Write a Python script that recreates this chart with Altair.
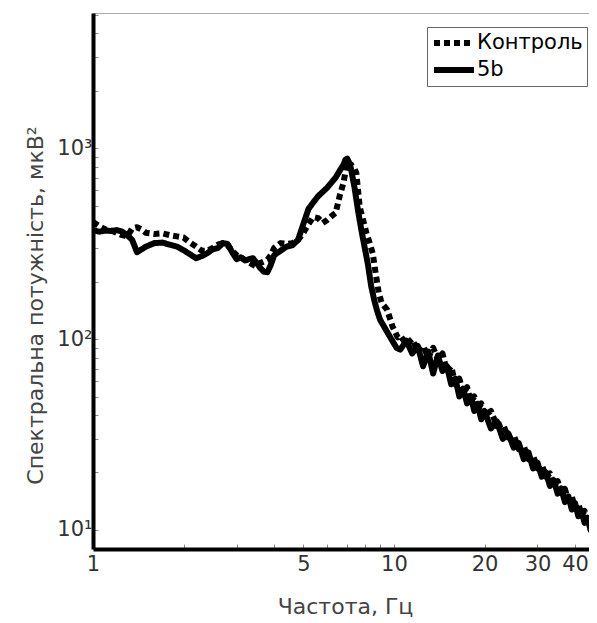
import altair as alt
import pandas as pd

series_names = ["Контроль", "5b"]

# ---- Series "5b" (solid line) ----
freq_5b_low = [1.0, 1.05, 1.1, 1.15, 1.2, 1.25, 1.3, 1.35, 1.4, 1.45, 1.5,
               1.6, 1.7, 1.8, 1.9, 2.0, 2.1, 2.2, 2.3, 2.4, 2.5, 2.6, 2.7, 2.8, 2.9, 3.0,
               3.1, 3.2, 3.3, 3.4, 3.5, 3.6, 3.7, 3.8, 3.9, 4.0,
               4.2, 4.4, 4.6, 4.8, 5.0, 5.2, 5.4, 5.6, 5.8, 6.0, 6.2, 6.4, 6.6, 6.8,
               6.9, 7.0, 7.1, 7.2,
               7.4, 7.6, 7.8, 8.0, 8.2, 8.4, 8.6, 8.8, 9.0,
               9.4, 9.8, 10.2]
power_5b_low = [372, 365, 370, 368, 372, 365, 350, 330, 285, 295, 305,
                318, 320, 312, 305, 292, 278, 265, 272, 282, 295, 300, 318, 315, 285, 262,
                268, 258, 262, 265, 250, 235, 225, 224, 245, 275,
                290, 305, 310, 330, 400, 480, 520, 560, 590, 620, 660, 700, 760, 820,
                870, 880, 840, 780,
                620, 470, 370, 300, 245, 190, 160, 140, 126,
                112, 100, 90]
freq_5b_high = [10.5, 11.0, 11.5, 12.0, 12.5, 13.0, 13.5, 14.0, 14.5, 15.0, 15.5, 16.0,
                 16.5, 17.0, 17.5, 18.0, 18.5, 19.0, 19.5, 20.0,
                 21, 22, 23, 24, 25, 26, 27, 28, 29, 30, 31, 32, 33, 34, 35, 36, 37, 38,
                 39, 40, 41, 42, 43, 44, 45, 46, 47]
power_5b_high = [88, 98, 84, 92, 72, 86, 66, 82, 68, 72, 58, 62,
                 50, 55, 46, 50, 42, 45, 38, 42,
                 34, 37, 30, 32, 27, 28.5, 23.5, 25.5, 21, 22.5, 19, 20, 17, 18.2, 15.5,
                 16.5, 14, 15, 12.8, 13.8, 11.8, 12.6, 10.9, 11.6, 10, 10.7, 9.3]

# ---- Series "Контроль" (dotted line) ----
freq_ctrl_low = [1.0, 1.05, 1.1, 1.15, 1.2, 1.25, 1.3, 1.35, 1.4, 1.45, 1.5,
                 1.6, 1.7, 1.8, 1.9, 2.0, 2.1, 2.2, 2.3, 2.4, 2.5, 2.6, 2.7, 2.8, 2.9, 3.0,
                 3.2, 3.3, 3.4, 3.5, 3.6, 3.7, 3.8, 3.9, 4.0,
                 4.2, 4.4, 4.6, 4.8, 5.0, 5.2, 5.4, 5.6, 5.8, 6.0, 6.2, 6.4, 6.6, 6.8,
                 7.0, 7.2, 7.4, 7.5, 7.7, 7.9, 8.1, 8.3, 8.5, 8.7, 8.9, 9.1, 9.5, 9.9, 10.3]
power_ctrl_low = [410, 390, 375, 370, 360, 350, 345, 380, 385, 375, 360,
                  355, 358, 350, 345, 340, 320, 305, 290, 290, 300, 312, 318, 310, 290, 275,
                  260, 252, 245, 240, 250, 255, 260, 275, 300,
                  318, 315, 318, 330, 360, 400, 436, 430, 405, 420, 440, 457, 560, 660,
                  850, 820, 780, 740, 490, 420, 360, 320, 282, 220, 175, 155, 142, 116, 102]
freq_ctrl_high = [10.5, 11.0, 11.5, 12.0, 12.5, 13.0, 13.5, 14.0, 14.5, 15.0, 15.5, 16.0,
                  16.5, 17.0, 17.5, 18.0, 18.5, 19.0, 19.5, 20.0,
                  21, 22, 23, 24, 25, 26, 27, 28, 29, 30, 31, 32, 33, 34, 35, 36, 37, 38,
                  39, 40, 41, 42, 43, 44, 45, 46, 47]
power_ctrl_high = [104, 94, 100, 86, 92, 80, 90, 78, 84, 68, 72, 58,
                   62, 52, 56, 47, 50, 43, 46, 40,
                   42, 35, 36, 30.5, 31.5, 26.5, 27.5, 23.5, 24.5, 21, 22, 19, 19.8, 17.2, 18,
                   15.6, 16.4, 14.2, 15, 13, 13.8, 12, 12.6, 11, 11.6, 10.2, 10.6]

x_tick_values = [1, 2, 3, 4, 5, 6, 7, 8, 9, 10, 20, 30, 40]
x_label_values = [1, 5, 10, 20, 30, 40]
y_tick_values = [10, 20, 30, 40, 50, 60, 70, 80, 90, 100, 200, 300, 400, 500, 600, 700,
                 800, 900, 1000, 2000, 3000, 4000, 5000]

freq_5b = freq_5b_low + freq_5b_high
power_5b = power_5b_low + power_5b_high
freq_ctrl = freq_ctrl_low + freq_ctrl_high
power_ctrl = power_ctrl_low + power_ctrl_high

rows = []
for i, (f, p) in enumerate(zip(freq_5b, power_5b)):
    rows.append({"f": f, "p": p, "series": "5b", "idx": i})
for i, (f, p) in enumerate(zip(freq_ctrl, power_ctrl)):
    rows.append({"f": f, "p": p, "series": "Контроль", "idx": i})
df = pd.DataFrame(rows)

font = "DejaVu Sans"
x_label_expr = ("indexof([" + ",".join(str(v) for v in x_label_values)
                + "], datum.value) >= 0 ? '' + datum.value : ''")
y_label_expr = ("datum.value == 10 ? '10¹' : datum.value == 100 ? '10²' : "
                "datum.value == 1000 ? '10³' : ''")

chart = alt.Chart(df).mark_line(strokeWidth=6, clip=True, strokeJoin="round").encode(
    x=alt.X("f:Q",
            scale=alt.Scale(type="log", domain=[1, 47.3], nice=False),
            axis=alt.Axis(values=x_tick_values, labelExpr=x_label_expr, grid=False,
                          domainColor="black", domainWidth=4,
                          tickColor="#888", tickSize={"expr": "-5"}, tickWidth=1,
                          labelFont=font, labelFontSize=21, labelColor="#333",
                          labelPadding=9, labelFlush=False, labelOverlap=False,
                          titleFont=font, titleFontSize=22, titleColor="#444",
                          titleFontWeight="normal", titlePadding=22),
            title="Частота, Гц"),
    y=alt.Y("p:Q",
            scale=alt.Scale(type="log", domain=[7.95, 5100], nice=False),
            axis=alt.Axis(values=y_tick_values, labelExpr=y_label_expr, grid=False,
                          domainColor="black", domainWidth=4,
                          tickColor="#888", tickSize={"expr": "-5"}, tickWidth=1,
                          labelFont=font, labelFontSize=21, labelColor="#333",
                          labelPadding=6, labelOverlap=False,
                          titleFont=font, titleFontSize=22, titleColor="#444",
                          titleFontWeight="normal", titleX=-46, titleY=292,
                          titleAlign="center", titleBaseline="bottom", titleAngle=270),
            title="Спектральна потужність, мкВ²"),
    strokeDash=alt.StrokeDash("series:N",
                              scale=alt.Scale(domain=series_names, range=[[6, 4], [1, 0]]),
                              legend=alt.Legend(title=None, orient="none", legendX=334, legendY=14,
                                                strokeColor="#666", fillColor="white",
                                                padding=4, symbolType="stroke",
                                                symbolStrokeWidth=6, symbolSize=1600,
                                                symbolStrokeColor="black",
                                                labelFont=font, labelFontSize=21,
                                                labelColor="black", labelOffset=0,
                                                clipHeight=24, rowPadding=3)),
    color=alt.value("black"),
    order="idx:Q",
).properties(
    width=504, height=536,
    autosize=alt.AutoSizeParams(type="none"),
    padding={"left": 85, "top": 5, "right": -8, "bottom": 70},
).configure_view(stroke="#aaa", strokeWidth=1)

chart.save("out.html", embed_options={"renderer": "svg", "actions": False})
